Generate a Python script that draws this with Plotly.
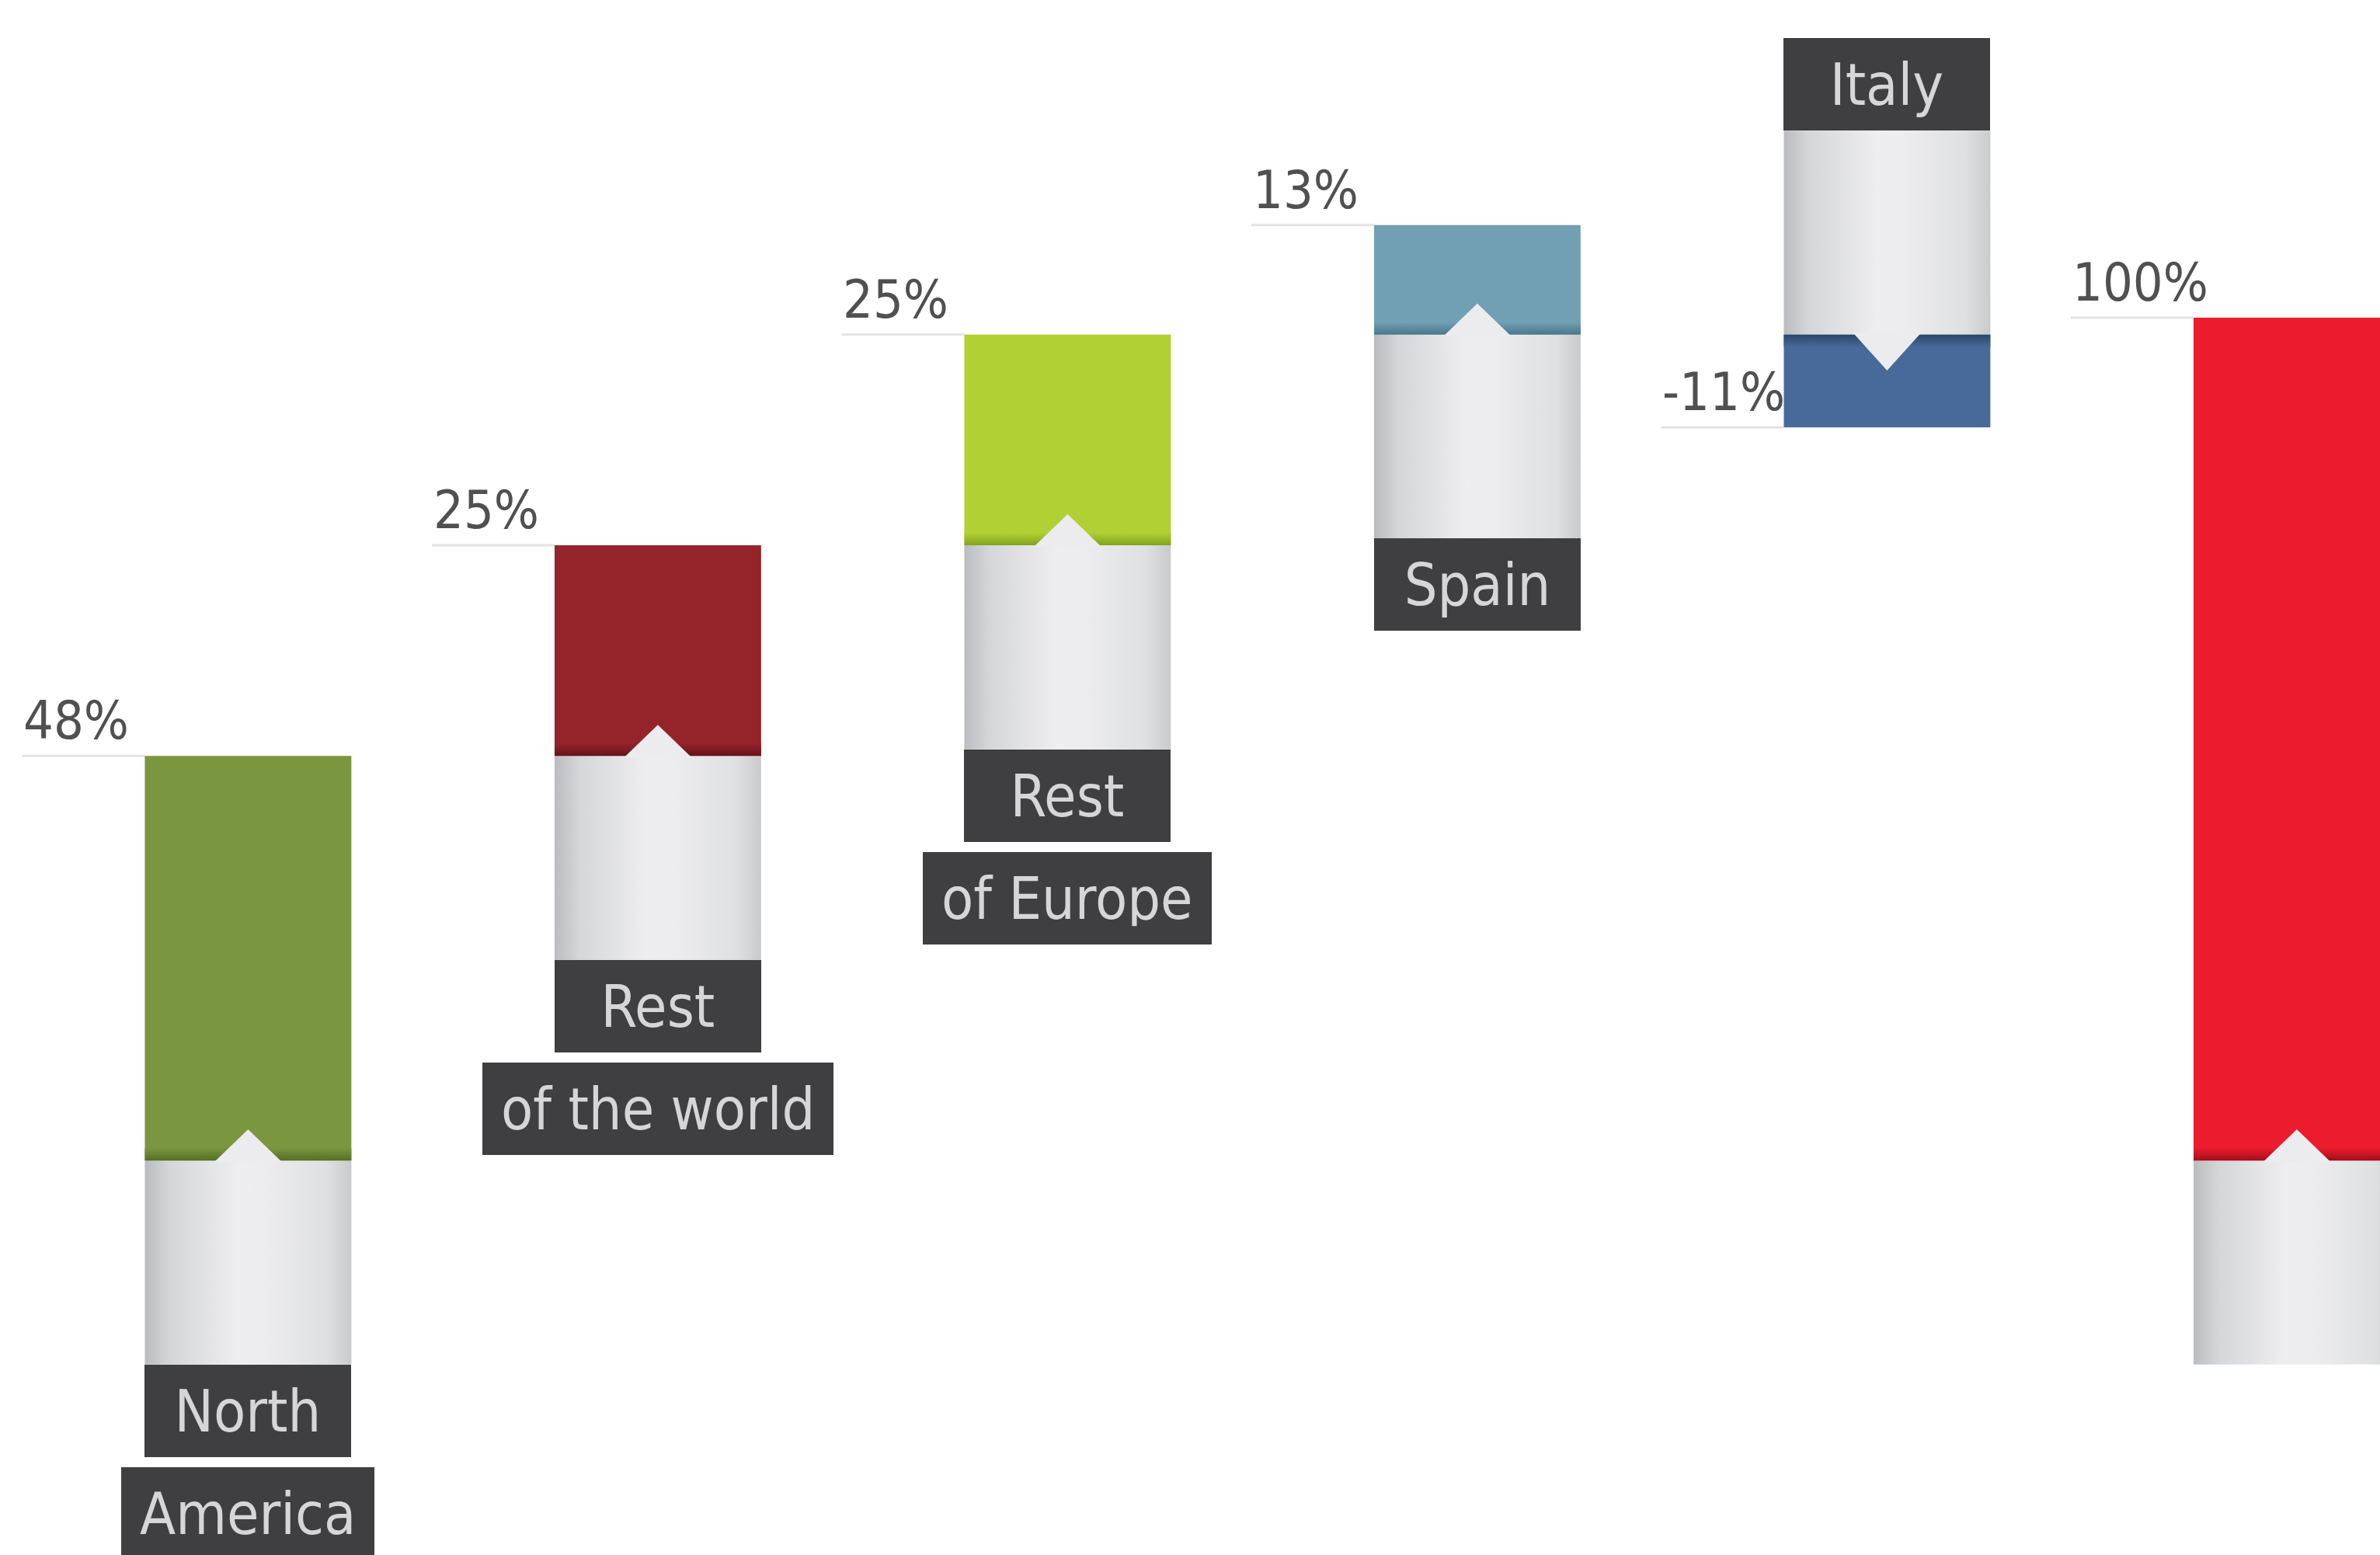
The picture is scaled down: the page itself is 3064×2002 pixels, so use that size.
import plotly.graph_objects as go

# ---- data ----
categories = ["North America", "Rest of the world", "Rest of Europe", "Spain", "Italy", "Total"]
label_lines = [["North", "America"], ["Rest", "of the world"], ["Rest", "of Europe"], ["Spain"], ["Italy"], []]
values = [48, 25, 25, 13, -11, 100]
bar_start = [0, 48, 73, 98, 98, 0]

# ---- styling ----
colors = ["#7a963f", "#95232a", "#b1d034", "#71a0b5", "#476a9b", "#ec1b2e"]
shades = ["#556f26", "#661318", "#82a21f", "#4a778b", "#2b466c", "#a30f1c"]
BOX_BG = "#3f3f41"
BOX_TXT = "#d6d6d8"
PCT_TXT = "#505050"
FONT = "Liberation Sans Narrow, DejaVu Sans Condensed, Roboto Condensed, Liberation Sans, sans-serif"

W, H = 3064, 2002
X_RANGE = [-0.6055, 5.2030]
Y_RANGE = [-46.8, 137.7]
PX_X = W / (X_RANGE[1] - X_RANGE[0])
PX_Y = H / (Y_RANGE[1] - Y_RANGE[0])

BAR_W = 0.504
TAB_H = 24.2        # grey tab under each block (in % units)
BOX_H = 11.0        # label box height
BOX_GAP = 1.2
NOTCH_HALF = 0.083
NOTCH_H = 3.7
SHADOW_H = 1.5
LEAD = 158 / PX_X   # length of the leader line left of the bar
PAD = 24
BOX_FONT = 75
PCT_FONT = 68

tab_scale = [[0.0, "#bbbcbf"], [0.12, "#d5d6d9"], [0.45, "#eeeef0"],
             [0.6, "#ececee"], [0.88, "#dfe0e2"], [1.0, "#c9cacc"]]

fig = go.Figure()

# coloured blocks
fig.add_trace(go.Bar(
    x=list(range(len(values))), y=values, base=bar_start, width=BAR_W,
    marker=dict(color=colors, line=dict(width=0)), hoverinfo="skip",
))

shapes = []
annotations = []
for i, (v, s) in enumerate(zip(values, bar_start)):
    d = 1 if v >= 0 else -1
    left, right = i - BAR_W / 2, i + BAR_W / 2
    # grey tab on the start side of the block
    t0, t1 = s, s - d * TAB_H
    fig.add_trace(go.Scatter(
        x=[left, right, right, left, left], y=[t0, t0, t1, t1, t0],
        mode="lines", fill="toself", line=dict(width=0, color="rgba(0,0,0,0)"),
        fillgradient=dict(type="horizontal", colorscale=tab_scale, start=left, stop=right),
        hoverinfo="skip",
    ))
    # darker edge of the block where it meets the tab
    e1 = s + d * SHADOW_H
    fig.add_trace(go.Scatter(
        x=[left, right, right, left, left], y=[s, s, e1, e1, s],
        mode="lines", fill="toself", line=dict(width=0, color="rgba(0,0,0,0)"),
        fillgradient=dict(type="vertical", colorscale=[[0, shades[i]], [1, colors[i]]],
                          start=s, stop=e1),
        hoverinfo="skip",
    ))
    # arrow notch pointing in the direction of the change
    nh = NOTCH_H if d > 0 else NOTCH_H * 1.15
    fig.add_trace(go.Scatter(
        x=[i - NOTCH_HALF, i, i + NOTCH_HALF, i - NOTCH_HALF],
        y=[s - d * 0.2, s + d * nh, s - d * 0.2, s - d * 0.2],
        mode="lines", fill="toself", fillcolor="#ececee",
        line=dict(width=0, color="rgba(0,0,0,0)"), hoverinfo="skip",
    ))

    # value label with leader line at the block's end
    edge = s + v
    shapes.append(dict(type="line", xref="x", yref="y", x0=left - LEAD, x1=left,
                       y0=edge, y1=edge, line=dict(color="#e3e3e3", width=3), layer="below"))
    annotations.append(dict(
        x=left - LEAD, y=edge, xref="x", yref="y", xanchor="left", yanchor="bottom",
        text=f"{v}%", showarrow=False, yshift=4,
        font=dict(family=FONT, size=PCT_FONT, color=PCT_TXT),
    ))

    # category label boxes beyond the tab
    lines = label_lines[i]
    anchor = "top" if d > 0 else "bottom"
    y_box = t1
    for j, line in enumerate(lines):
        if j == 0:
            annotations.append(dict(
                x=i, y=y_box, xref="x", yref="y", xanchor="center", yanchor=anchor,
                text=line, showarrow=False, width=BAR_W * PX_X, height=BOX_H * PX_Y,
                bgcolor=BOX_BG, borderpad=0, borderwidth=0, valign="middle",
                font=dict(family=FONT, size=BOX_FONT, color=BOX_TXT),
            ))
        else:
            annotations.append(dict(
                x=i, y=y_box, xref="x", yref="y", xanchor="center", yanchor=anchor,
                text=line, showarrow=False, height=BOX_H * PX_Y - 2 * PAD,
                bgcolor=BOX_BG, borderpad=PAD, borderwidth=0, valign="middle",
                font=dict(family=FONT, size=BOX_FONT, color=BOX_TXT),
            ))
        y_box = y_box - d * (BOX_H + BOX_GAP)

fig.update_layout(
    width=W, height=H, margin=dict(l=0, r=0, t=0, b=0),
    paper_bgcolor="white", plot_bgcolor="white", showlegend=False,
    xaxis=dict(range=X_RANGE, visible=False, fixedrange=True),
    yaxis=dict(range=Y_RANGE, visible=False, fixedrange=True),
    shapes=shapes, annotations=annotations, barmode="overlay",
)

fig.write_html("out.html")
